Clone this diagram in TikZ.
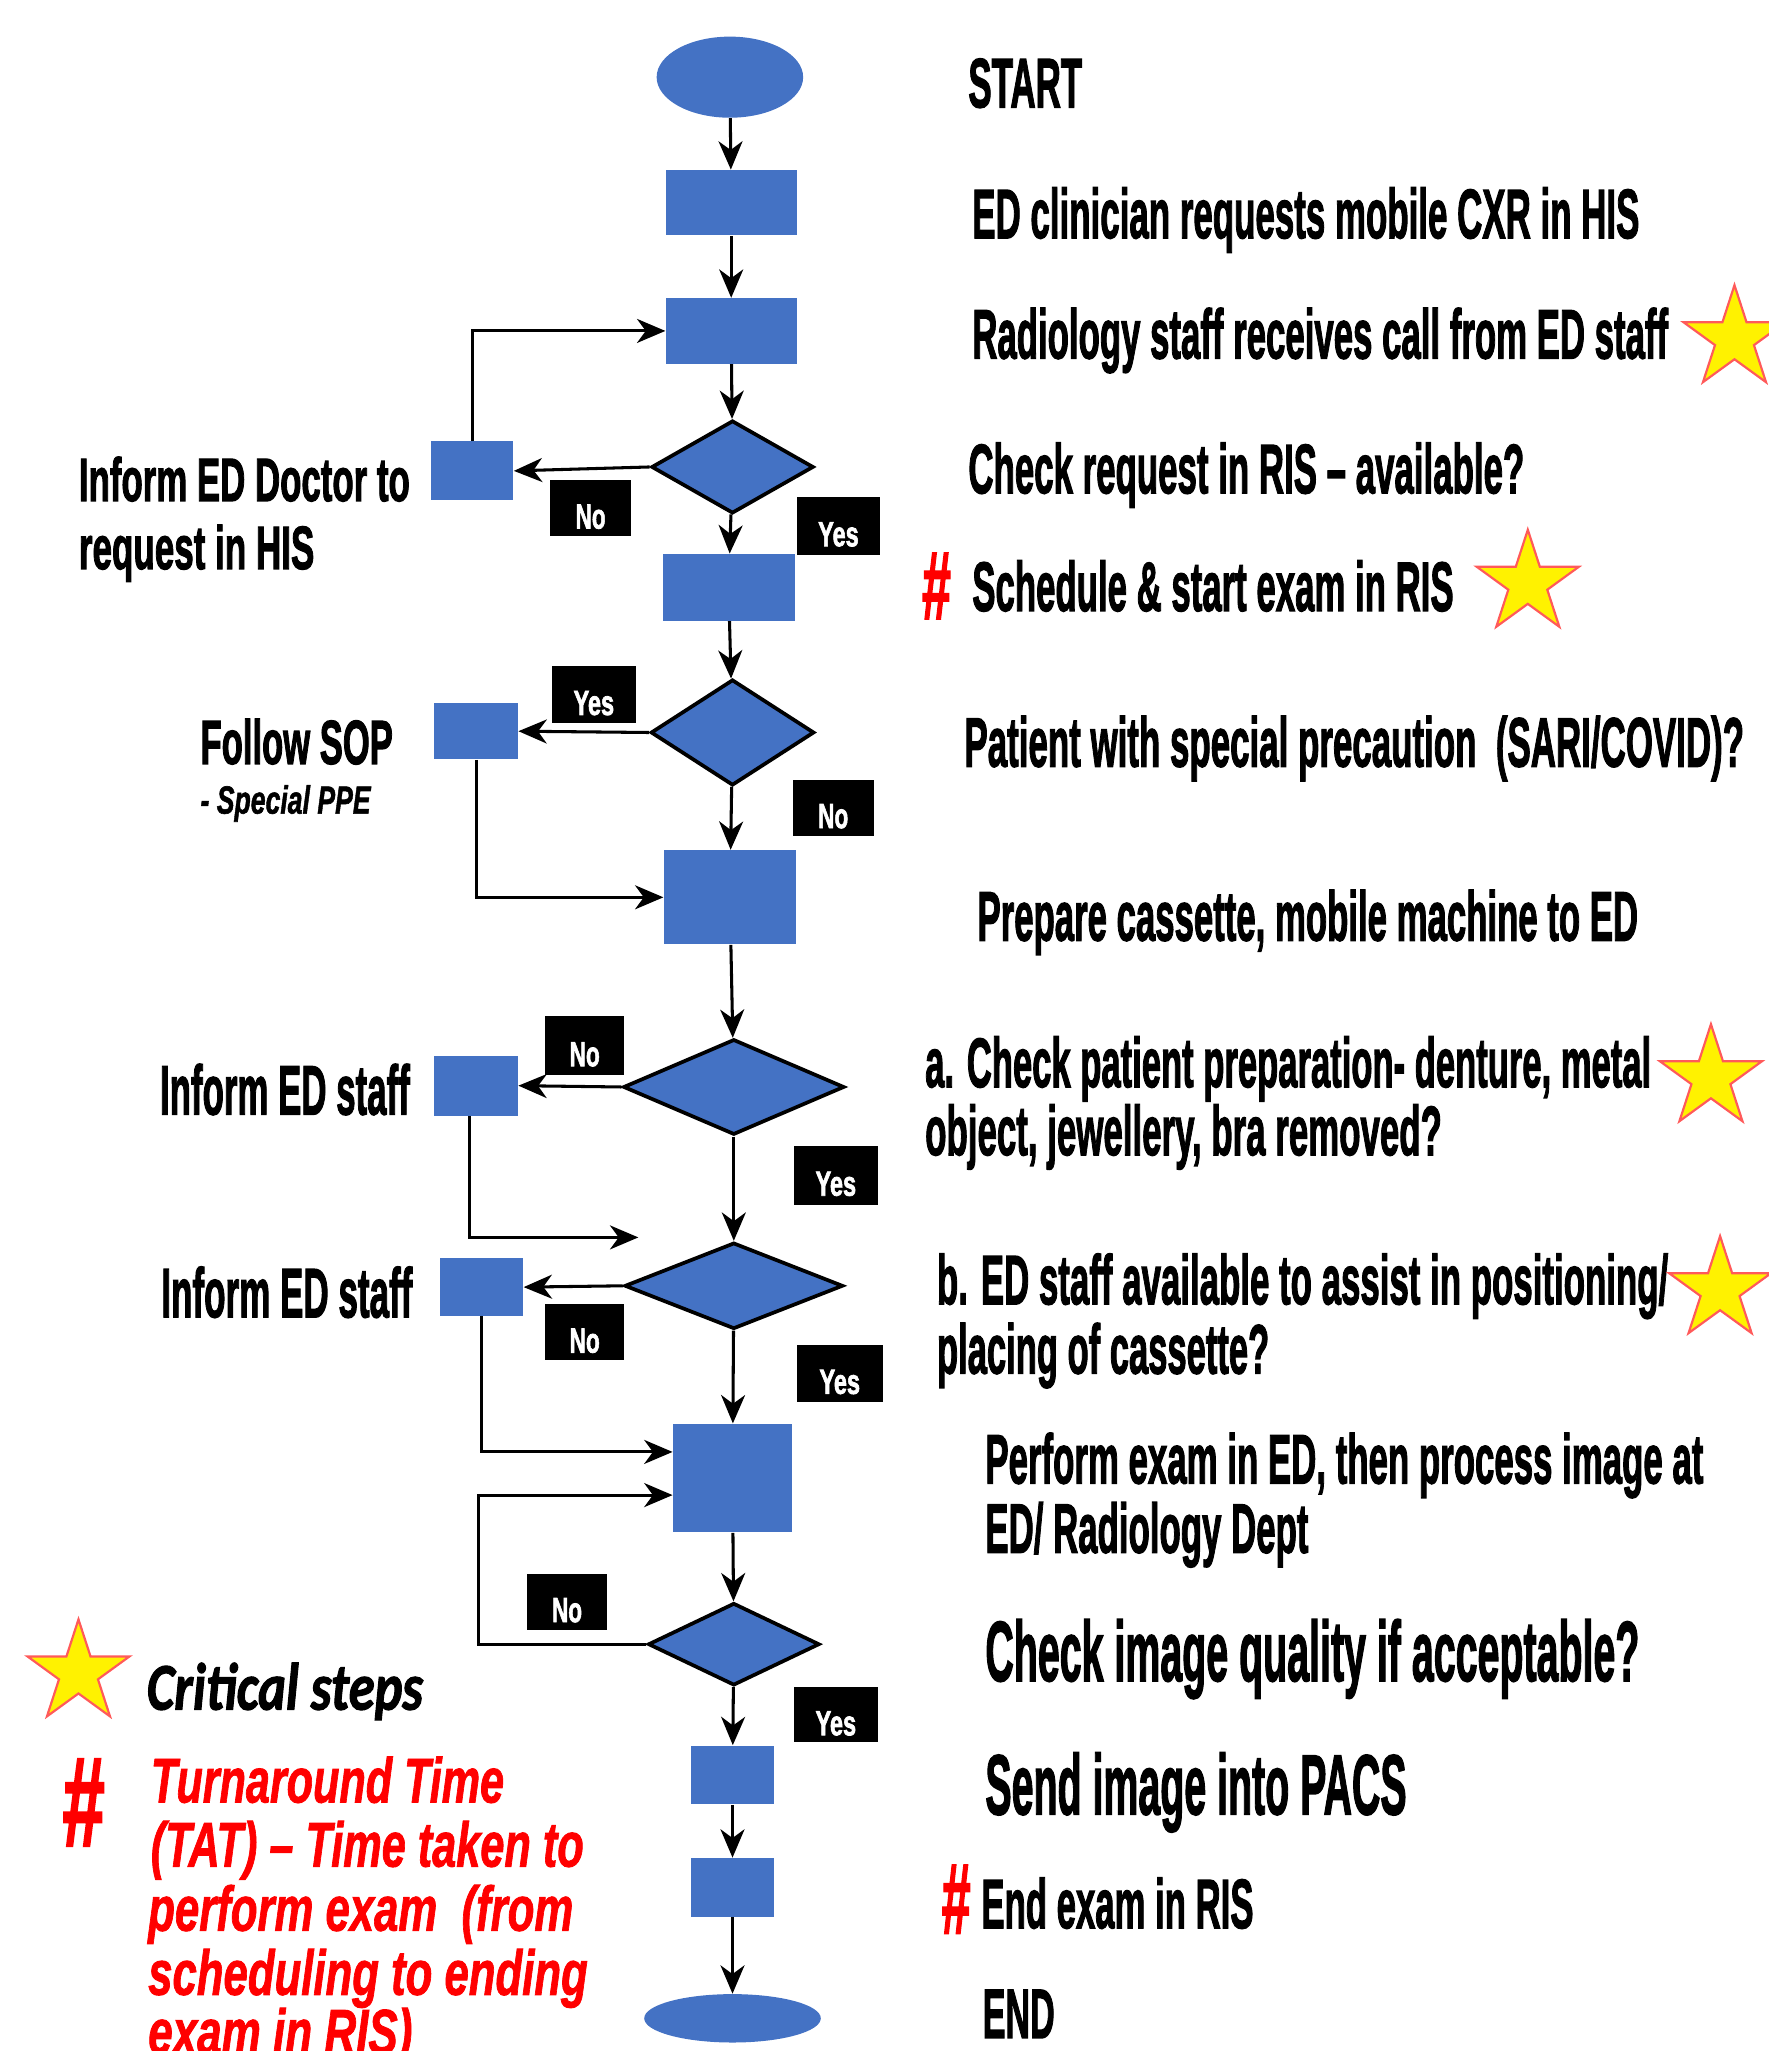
\documentclass[tikz,border=0pt]{standalone}
\usepackage{fontspec}
\usepackage{graphicx}
\setmainfont{Liberation Sans}[BoldFeatures={FakeBold=2.2},BoldItalicFeatures={FakeBold=1.5}]
\newfontfamily\calib{Carlito}[BoldItalicFeatures={FakeBold=1.8}]
\usetikzlibrary{arrows.meta,shapes.geometric,calc}
\newlength\UL \setlength\UL{0.6pt}
\newcommand\U{*0.6pt}
\newcommand\tx[2]{\resizebox{#1\UL}{\height}{#2}}
\definecolor{blu}{HTML}{4472C4}
\definecolor{starline}{HTML}{FF5A5A}
\begin{document}
\begin{tikzpicture}[x=0.6pt,y=-0.6pt,
  arr/.style={-{Stealth[length=13pt,width=11pt,inset=4pt]}, line width=1.4pt},
  blk/.style={rectangle, fill=blu, draw=none, inner sep=0},
  dec/.style={diamond, fill=blu, draw=black, line width=1.7pt, inner sep=0},
  oval/.style={ellipse, fill=blu, draw=none, inner sep=0},
  lab/.style={rectangle, fill=black, text=white, inner sep=0, minimum width=62\U, minimum height=43\U, text height=18.7pt, text depth=0pt, font=\bfseries\fontsize{16}{16}\selectfont},
  stx/.style={star, star points=5, star point ratio=2.618, fill=yellow, draw=starline, line width=1pt, minimum size=82\U, inner sep=0},
  rt/.style={anchor=base west, inner sep=0, font=\bfseries\fontsize{32}{38}\selectfont},
  rtbig/.style={anchor=base west, inner sep=0, font=\bfseries\fontsize{39}{44}\selectfont},
  lt/.style={anchor=base west, inner sep=0, font=\bfseries\fontsize{28}{34}\selectfont},
  redt/.style={anchor=base west, inner sep=0, text=red, font=\bfseries\itshape\fontsize{29}{34}\selectfont},
  hash/.style={inner sep=0, text=red, font=\bfseries\fontsize{30}{30}\selectfont}
]
\useasboundingbox (0,0) rectangle (1352,1568);

% ---- main column
\node[oval, minimum width=112\U, minimum height=62\U] (start) at (558,59) {};
\node[blk, minimum width=100\U, minimum height=50\U] (b1) at (559,155) {};
\node[blk, minimum width=100\U, minimum height=50\U] (b2) at (559,253) {};
\node[dec, minimum width=124\U, minimum height=71\U] (d1) at (560,357) {};
\node[blk, minimum width=101\U, minimum height=51\U] (b3) at (557,449) {};
\node[dec, minimum width=125\U, minimum height=81\U] (d2) at (560,560) {};
\node[blk, minimum width=101\U, minimum height=72\U] (b4) at (558,686) {};
\node[dec, minimum width=169\U, minimum height=73\U] (d3) at (561,831) {};
\node[dec, minimum width=167\U, minimum height=66\U] (d4) at (561,983) {};
\node[blk, minimum width=91\U, minimum height=83\U] (b5) at (560,1130) {};
\node[dec, minimum width=131\U, minimum height=63\U] (d5) at (561,1257) {};
\node[blk, minimum width=64\U, minimum height=45\U] (b6) at (560,1357) {};
\node[blk, minimum width=64\U, minimum height=45\U] (b7) at (560,1443) {};
\node[oval, minimum width=135\U, minimum height=37\U] (end) at (560,1543) {};

% ---- side boxes
\node[blk, minimum width=63\U, minimum height=45\U] (inf1) at (361,360) {};
\node[blk, minimum width=64\U, minimum height=43\U] (sop) at (364,559) {};
\node[blk, minimum width=64\U, minimum height=46\U] (ined1) at (364,830) {};
\node[blk, minimum width=64\U, minimum height=44\U] (ined2) at (368,984) {};

% ---- labels
\node[lab] (no1) at (451.5,388.5) {\tx{23}{No}};
\node[lab, minimum width=64\U, minimum height=44\U] (yes1) at (641,402) {\tx{31}{Yes}};
\node[lab, minimum width=64\U, minimum height=44\U] (yes2) at (454,531) {\tx{31}{Yes}};
\node[lab] (no2) at (637,617.5) {\tx{23}{No}};
\node[lab, minimum width=60\U, minimum height=45\U] (no3) at (447,799.5) {\tx{23}{No}};
\node[lab, minimum width=64\U, minimum height=45\U] (yes3) at (639,898.5) {\tx{31}{Yes}};
\node[lab, minimum width=60\U] (no4) at (447,1018.5) {\tx{23}{No}};
\node[lab, minimum width=66\U, minimum height=44\U] (yes4) at (642,1050) {\tx{31}{Yes}};
\node[lab, minimum width=61\U] (no5) at (433.5,1224.5) {\tx{23}{No}};
\node[lab, minimum width=64\U, minimum height=42\U] (yes5) at (639,1311) {\tx{31}{Yes}};

% ---- connectors
\draw[arr] (start) -- (b1);
\draw[arr] (b1) -- (b2);
\draw[arr] (b2) -- (d1);
\draw[arr] (d1) -- (b3);
\draw[arr] (d1.west) -- (inf1.east);
\draw[arr] (inf1.north) |- (b2.west);
\draw[arr] (b3) -- (d2);
\draw[arr] (d2.west) -- (sop.east);
\draw[arr] (d2) -- (b4);
\draw[arr] (sop.south) |- (b4.west);
\draw[arr] (b4) -- (d3);
\draw[arr] (d3.west) -- (ined1.east);
\coordinate (free1) at (488,946);
\draw[arr] ([xshift=-3pt]ined1.south) |- (free1);
\draw[arr] (d3) -- (d4);
\draw[arr] (d4.west) -- (ined2.east);
\draw[arr] (ined2.south) |- ($(b5.west)+(0,-20)$);
\draw[arr] (d4) -- (b5);
\draw[arr] (b5) -- (d5);
\coordinate (loop5) at (366,1143);
\draw[arr] (d5.west) -| (loop5) -- ($(b5.west)+(0,13)$);
\draw[arr] (d5) -- (b6);
\draw[arr] (b6) -- (b7);
\draw[arr] (b7) -- (end);

% ---- right texts
\node[rt] (t1) at (740,82) {\tx{87}{START}};
\node[rt] (t2) at (743,182) {\tx{510}{ED clinician requests mobile CXR in HIS}};
\node[rt] (t3) at (743,274) {\tx{532}{Radiology staff receives call from ED staff}};
\node[rt] (t4) at (740,377) {\tx{425}{Check request in RIS – available?}};
\node[hash] (h1) at (716,448) {\resizebox{22\UL}{50\UL}{\#}};
\node[rt] (t5) at (743,467) {\tx{368}{Schedule \& start exam in RIS}};
\node[rt] (t6) at (737,586) {\tx{596}{Patient with special precaution~~(SARI/COVID)?}};
\node[rt] (t7) at (747,719) {\tx{505}{Prepare cassette, mobile machine to ED}};
\node[rt] (t8) at (707,831) {\tx{555}{a. Check patient preparation- denture, metal}};
\node[rt] (t9) at (707,883) {\tx{395}{object, jewellery, bra removed?}};
\node[rt] (t10) at (716,997) {\tx{559}{b. ED staff available to assist in positioning/}};
\node[rt] (t11) at (716,1050) {\tx{254}{placing of cassette?}};
\node[rt] (t12) at (753,1134) {\tx{549}{Perform exam in ED, then process image at}};
\node[rt] (t13) at (753,1187) {\tx{247}{ED/ Radiology Dept}};
\node[rtbig] (t14) at (753,1285) {\tx{500}{Check image quality if acceptable?}};
\node[rtbig] (t15) at (753,1387) {\tx{322}{Send image into PACS}};
\node[hash] (h2) at (731,1452) {\resizebox{22\UL}{52\UL}{\#}};
\node[rt] (t16) at (750,1474) {\tx{208}{End exam in RIS}};
\node[rt] (t17) at (751,1558) {\tx{55}{END}};

% ---- stars
\node[stx] (s1) at (1326,259) {};
\node[stx] (s2) at (1168,446) {};
\node[stx] (s3) at (1308,824) {};
\node[stx] (s4) at (1315,986) {};
\node[stx] (s5) at (60,1279) {};

% ---- left texts
\node[lt] (l1) at (60,383) {\tx{253}{Inform ED Doctor to}};
\node[lt] (l2) at (60,435) {\tx{180}{request in HIS}};
\node[lt, font=\bfseries\fontsize{28.5}{34}\selectfont] (l3) at (153,584) {\tx{147}{Follow SOP}};
\node[anchor=base west, inner sep=0, font=\bfseries\itshape\fontsize{18}{20}\selectfont] (l4) at (153,622) {\tx{130}{- Special PPE}};
\node[rt] (l5) at (122,852) {\tx{191}{Inform ED staff}};
\node[rt] (l6) at (123,1007) {\tx{192}{Inform ED staff}};

% ---- legend
\node[anchor=base west, inner sep=0, font=\calib\bfseries\itshape\fontsize{30.6}{34}\selectfont] (crit) at (112,1307) {\tx{211}{Critical steps}};
\node[hash] (h3) at (64,1378) {\resizebox{32\UL}{66\UL}{\#}};
\node[redt] (r1) at (115,1378) {\tx{270}{Turnaround Time}};
\node[redt] (r2) at (115,1427) {\tx{331}{(TAT) – Time taken to}};
\node[redt] (r3) at (113,1476) {\tx{325}{perform exam~~(from}};
\node[redt] (r4) at (113,1525) {\tx{336}{scheduling to ending}};
\node[redt] (r5) at (113,1570) {\tx{202}{exam in RIS)}};
\end{tikzpicture}
\end{document}
